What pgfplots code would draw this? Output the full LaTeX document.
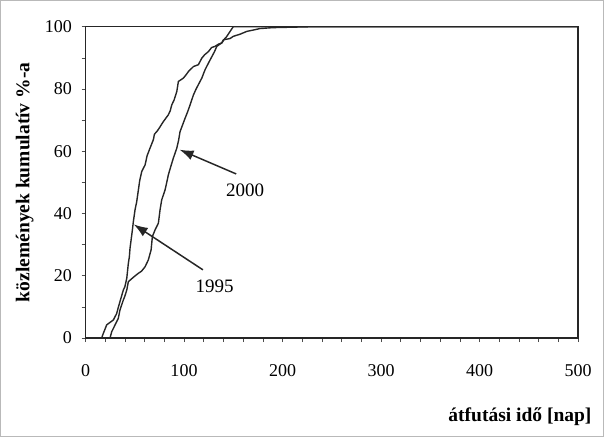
\documentclass[border=0pt]{standalone}
\usepackage{pgfplots}
\pgfplotsset{compat=1.18}
\usepackage{fontspec}
\setmainfont{Liberation Serif}
\usetikzlibrary{arrows.meta}

\pgfplotstableread{
x y
0 0
16.4 0
18.1 1.5
21.5 4.2
24 4.8
28.3 5.8
31.7 7.9
33 9.5
35 11.7
38.4 15.4
40 16.5
41.9 19.2
43.5 24
44.5 26
45.2 28.8
47.6 34.7
48.6 37.4
50.3 41.2
52 43.8
53.7 47.6
55 50.5
57.1 53.5
60.5 55.6
62.5 58.5
65.5 61
68.9 63.7
70 65.5
72.4 66.3
75 67.5
79 69.5
84.1 71.7
86 73
87.6 74.9
90 76.5
92.7 79.2
94.3 82.4
99.4 83.5
102 84.5
104.5 85.6
109.6 87.2
114.6 87.8
118.1 89.9
121 91
124.8 92
128 93.3
131.6 93.7
135 94.4
138.4 94.8
140 95.8
146.8 96.2
150 96.9
157 97.6
163.8 98.5
170 98.9
177 99.4
190 99.7
230 100
500 100
}\yearA

\pgfplotstableread{
x y
0 0
24.9 0
26.6 2
30 4.2
33.3 6.3
35 9
38.4 12.2
40 13.5
41.9 15.4
43.5 18.1
48.6 19.5
53.7 20.8
57 21.5
60.5 22.9
63.8 25.1
66.6 28.3
67.9 32.6
70.6 34.7
74 36.9
75.7 41.2
77.4 44.4
80.8 47.6
82.5 50
84.1 52.4
86.5 55
89.2 57.8
92.7 61
94.5 63.5
96 66.3
101.1 70.6
103.5 72.5
106.2 74.9
109.6 78.1
112 79.8
114.6 81.4
118.1 83.5
121.4 86.2
124.8 88.3
128.3 90.4
131 92
133.3 93.7
138.4 94.8
141 96
143.5 96.9
146.8 98.5
150 100
500 100
}\yearB

\begin{document}
\begin{tikzpicture}
\draw[gray!55, line width=1pt] (-85pt,-98.5pt) rectangle (518pt,337.5pt);
\begin{axis}[
  at={(0,0)}, anchor=south west,
  scale only axis,
  width=492.5pt, height=311.3pt,
  xmin=0, xmax=500, ymin=0, ymax=100,
  xtick={0,100,...,500}, ytick={0,20,...,100},
  minor x tick num=4, minor y tick num=1,
  tick align=outside,
  xtick pos=left, ytick pos=left,
  major tick length=4pt, minor tick length=4pt,
  axis line style={line width=1.4pt, black!85},
  every tick/.style={black!70, line width=0.6pt},
  /pgf/number format/assume math mode=true,
  tick label style={font=\fontsize{18}{20}\selectfont},
  yticklabel style={xshift=-6pt},
  xticklabel style={yshift=-19pt},
  xlabel={átfutási idő [nap]},
  ylabel={közlemények kumulatív \%-a},
  xlabel style={at={(axis description cs:1.0345,-0.2666)}, anchor=base east, font=\fontsize{19.5}{22}\selectfont\bfseries},
  ylabel style={at={(axis description cs:-0.1235,0.5)}, anchor=center, font=\fontsize{19.5}{22}\selectfont\bfseries},
  clip=false,
]
\addplot[black!85, line width=1.4pt] table {\yearA};
\addplot[black!85, line width=1.4pt] table {\yearB};
\draw[black!85, line width=1.5pt, -{Latex[length=14pt,width=10pt]}] (axis cs:153,52.7) -- (axis cs:95.5,60.5);
\draw[black!85, line width=1.5pt, -{Latex[length=14pt,width=10pt]}] (axis cs:119.2,21.9) -- (axis cs:49,36.5);
\node[font=\fontsize{19}{21}\selectfont] at (axis cs:162,47.4) {2000};
\node[font=\fontsize{19}{21}\selectfont] at (axis cs:131,16.6) {1995};
\end{axis}
\end{tikzpicture}
\end{document}
